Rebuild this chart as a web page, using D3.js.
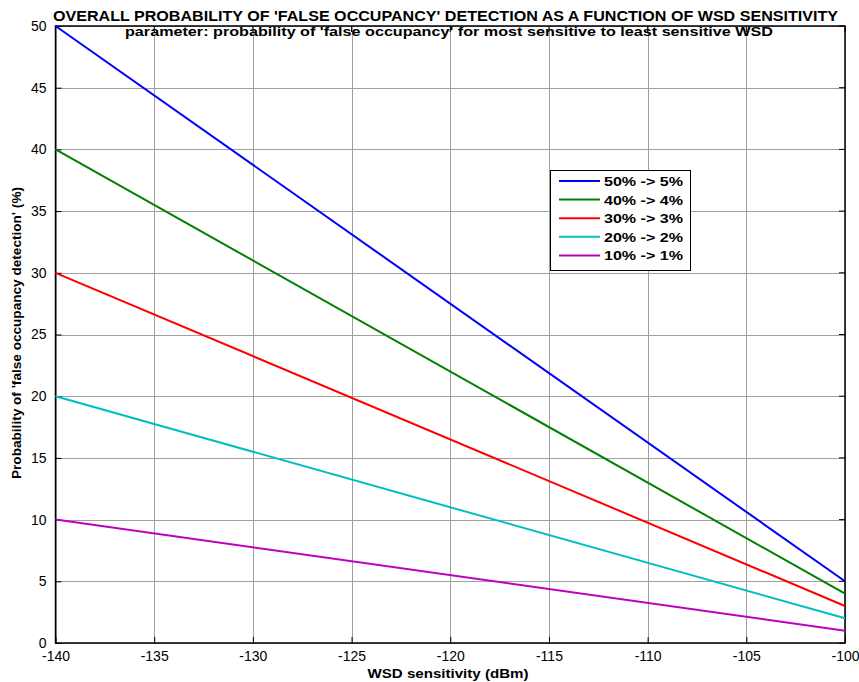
<!DOCTYPE html>
<html><head><meta charset="utf-8">
<script src="https://cdn.jsdelivr.net/npm/d3@7"></script>
<style>body{margin:0;background:#fff}svg{display:block}</style>
</head><body>
<svg id="c" width="859" height="682"></svg>
<script>
const xDomain = [-140, -100];
const yDomain = [0, 50];
const xTicks = [-140, -135, -130, -125, -120, -115, -110, -105, -100];
const yTicks = [0, 5, 10, 15, 20, 25, 30, 35, 40, 45, 50];
const seriesNames = ["50% -> 5%", "40% -> 4%", "30% -> 3%", "20% -> 2%", "10% -> 1%"];
const seriesColors = ["#0000ff", "#008000", "#ff0000", "#00bfbf", "#bf00bf"];
const sensitivity = [-140, -100];
const s50 = [50, 5];
const s40 = [40, 4];
const s30 = [30, 3];
const s20 = [20, 2];
const s10 = [10, 1];
const seriesValues = [s50, s40, s30, s20, s10];

const svg = d3.select("#c");
const L = 55.5, R = 845, T = 26, B = 643;
const x = d3.scaleLinear().domain(xDomain).range([L, R]);
const y = d3.scaleLinear().domain(yDomain).range([B, T]);
const font = "Arial, 'Liberation Sans', sans-serif";

// grid
svg.append("g").selectAll("line").data(xTicks).join("line")
  .attr("x1", d => Math.round(x(d)) + 0.5).attr("x2", d => Math.round(x(d)) + 0.5)
  .attr("y1", T).attr("y2", B).attr("stroke", "#a0a0a0").attr("stroke-width", 1);
svg.append("g").selectAll("line").data(yTicks).join("line")
  .attr("y1", d => Math.round(y(d)) + 0.5).attr("y2", d => Math.round(y(d)) + 0.5)
  .attr("x1", L).attr("x2", R).attr("stroke", "#a0a0a0").attr("stroke-width", 1);

// axes
const fmt = d => String(d);
const xAxisB = d3.axisBottom(x).tickValues(xTicks).tickFormat(fmt).tickSizeInner(-6).tickSizeOuter(0).tickPadding(10);
const yAxisL = d3.axisLeft(y).tickValues(yTicks).tickFormat(fmt).tickSizeInner(-6).tickSizeOuter(0).tickPadding(9);
const gx = svg.append("g").attr("transform", `translate(0,${B})`).call(xAxisB);
const gy = svg.append("g").attr("transform", `translate(${L},0)`).call(yAxisL);
[gx, gy].forEach(g => {
  g.select(".domain").remove();
  g.selectAll("line").attr("stroke", "#000");
  g.selectAll("text").attr("font-family", font).attr("font-size", 14).attr("fill", "#000");
});
gx.selectAll("text").attr("dy", "0.6em");
// top/right ticks
svg.append("g").selectAll("line").data(xTicks).join("line")
  .attr("x1", d => x(d)).attr("x2", d => x(d)).attr("y1", T).attr("y2", T + 6).attr("stroke", "#000");
svg.append("g").selectAll("line").data(yTicks).join("line")
  .attr("y1", d => y(d)).attr("y2", d => y(d)).attr("x1", R).attr("x2", R - 6).attr("stroke", "#000");

// box
svg.append("rect").attr("x", L).attr("y", T).attr("width", R - L).attr("height", B - T)
  .attr("fill", "none").attr("stroke", "#000").attr("stroke-width", 1.5);

// lines
const line = d3.line().x(d => x(d[0])).y(d => y(d[1]));
seriesValues.forEach((vals, i) => {
  svg.append("path").datum(sensitivity.map((s, j) => [s, vals[j]]))
    .attr("d", line).attr("fill", "none").attr("stroke", seriesColors[i]).attr("stroke-width", 2);
});

// titles
svg.append("text").attr("x", 445.5).attr("y", 21).attr("text-anchor", "middle")
  .attr("font-family", font).attr("font-weight", "bold").attr("font-size", 14)
  .attr("textLength", 785).attr("lengthAdjust", "spacingAndGlyphs")
  .text("OVERALL PROBABILITY OF 'FALSE OCCUPANCY' DETECTION AS A FUNCTION OF WSD SENSITIVITY");
svg.append("text").attr("x", 449).attr("y", 36).attr("text-anchor", "middle")
  .attr("font-family", font).attr("font-weight", "bold").attr("font-size", 13)
  .attr("textLength", 648).attr("lengthAdjust", "spacingAndGlyphs")
  .text("parameter: probability of 'false occupancy' for most sensitive to least sensitive WSD");
svg.append("text").attr("x", 448).attr("y", 678).attr("text-anchor", "middle")
  .attr("font-family", font).attr("font-weight", "bold").attr("font-size", 13)
  .attr("textLength", 161).attr("lengthAdjust", "spacingAndGlyphs")
  .text("WSD sensitivity (dBm)");
svg.append("text").attr("transform", "translate(21,333) rotate(-90)").attr("text-anchor", "middle")
  .attr("font-family", font).attr("font-weight", "bold").attr("font-size", 13)
  .attr("textLength", 292).attr("lengthAdjust", "spacingAndGlyphs")
  .text("Probability of 'false occupancy detection' (%)");

// legend
const lg = svg.append("g");
lg.append("rect").attr("x", 550.5).attr("y", 170.5).attr("width", 140).attr("height", 100)
  .attr("fill", "#fff").attr("stroke", "#000").attr("stroke-width", 1);
seriesNames.forEach((n, i) => {
  const yy = 181 + i * 18.6;
  lg.append("line").attr("x1", 559).attr("x2", 600).attr("y1", yy).attr("y2", yy)
    .attr("stroke", seriesColors[i]).attr("stroke-width", 2);
  lg.append("text").attr("x", 604).attr("y", yy + 5)
    .attr("font-family", font).attr("font-weight", "bold").attr("font-size", 13)
    .attr("textLength", 79).attr("lengthAdjust", "spacingAndGlyphs")
    .text(n);
});
</script>
</body></html>
